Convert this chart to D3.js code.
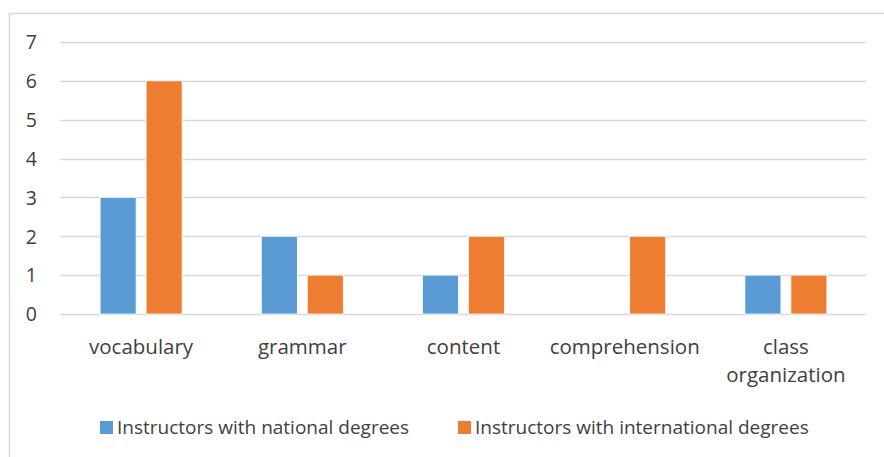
<!DOCTYPE html>
<html>
<head>
<meta charset="utf-8">
<script src="https://cdn.jsdelivr.net/npm/d3@7"></script>
<style>
  body { margin: 0; background: #fff; }
  text { font-family: "Open Sans", sans-serif; fill: #404040; }
</style>
</head>
<body>
<script>
// categories + series values
var categories = ["vocabulary", "grammar", "content", "comprehension", "class organization"];
var national = [3, 2, 1, 0, 1];
var international = [6, 1, 2, 2, 1];
var seriesNames = ["Instructors with national degrees", "Instructors with international degrees"];
var yTicks = [0, 1, 2, 3, 4, 5, 6, 7];

var colors = ["#5B9BD5", "#ED7D31"];

function chart() {
  var W = 884, H = 457;
  var left = 60.5, right = 866.5, top = 42, bottom = 314;

  var svg = d3.select("body").append("svg")
      .attr("width", W)
      .attr("height", H);

  // chart border (runs past the window on right / bottom)
  svg.append("rect")
      .attr("x", 9.5).attr("y", 13.5)
      .attr("width", 900).attr("height", 500)
      .attr("fill", "none")
      .attr("stroke", "#d9d9d9")
      .attr("stroke-width", 1.5);

  var x0 = d3.scaleBand().domain(categories).range([left, right])
      .paddingInner(0.4915).paddingOuter(0.2457);
  var x1 = d3.scaleBand().domain([0, 1]).range([0, x0.bandwidth()])
      .paddingInner(0.217).paddingOuter(0);
  var y = d3.scaleLinear().domain([0, 7]).range([bottom, top]);

  // gridlines
  svg.append("g").selectAll("line")
      .data(yTicks)
      .enter().append("line")
        .attr("x1", left).attr("x2", right)
        .attr("y1", function(d) { return Math.round(y(d)) + 0.5; })
        .attr("y2", function(d) { return Math.round(y(d)) + 0.5; })
        .attr("stroke", "#d9d9d9")
        .attr("stroke-width", 1.5);

  // y axis labels
  var yAxis = d3.axisLeft(y).tickValues(yTicks).tickFormat(d3.format("d"))
      .tickSize(0).tickPadding(0);
  var ga = svg.append("g")
      .attr("transform", "translate(37,0)")
      .call(yAxis);
  ga.select(".domain").remove();
  ga.selectAll("text")
      .style("font-family", "'Open Sans', sans-serif")
      .style("font-size", "19.5px")
      .attr("fill", "#404040")
      .attr("dy", "0.35em");

  // bars
  var rows = categories.map(function(c, i) {
    return { cat: c, vals: [national[i], international[i]] };
  });
  var groups = svg.selectAll(".grp")
      .data(rows)
      .enter().append("g")
        .attr("class", "grp")
        .attr("transform", function(d) { return "translate(" + x0(d.cat) + ",0)"; });
  groups.selectAll("rect")
      .data(function(d) { return d.vals.map(function(v, k) { return { k: k, v: v }; }); })
      .enter().append("rect")
        .attr("x", function(d) { return x1(d.k); })
        .attr("width", x1.bandwidth())
        .attr("y", function(d) { return y(d.v); })
        .attr("height", function(d) { return y(0) - y(d.v); })
        .attr("fill", function(d) { return colors[d.k]; })
        .attr("stroke", "#fff")
        .attr("stroke-width", 0.75);

  // category labels (wrapped like excel)
  var xl = svg.append("g");
  categories.forEach(function(c) {
    var lines = c === "class organization" ? ["class", "organization"] : [c];
    var t = xl.append("text")
        .attr("x", x0(c) + x0.bandwidth() / 2)
        .attr("y", 354)
        .attr("text-anchor", "middle")
        .style("font-size", "20.5px");
    lines.forEach(function(l, i) {
      t.append("tspan")
          .attr("x", x0(c) + x0.bandwidth() / 2)
          .attr("dy", i === 0 ? 0 : 28)
          .text(l);
    });
  });

  // legend
  var legX = [100, 458];
  var leg = svg.append("g");
  seriesNames.forEach(function(s, i) {
    leg.append("rect")
        .attr("x", legX[i]).attr("y", 421)
        .attr("width", 13).attr("height", 13)
        .attr("fill", colors[i]);
    leg.append("text")
        .attr("x", legX[i] + 17).attr("y", 427.5)
        .attr("dy", "0.35em")
        .style("font-size", "19px")
        .text(s);
  });
}

window.onload = chart();
</script>
</body>
</html>
